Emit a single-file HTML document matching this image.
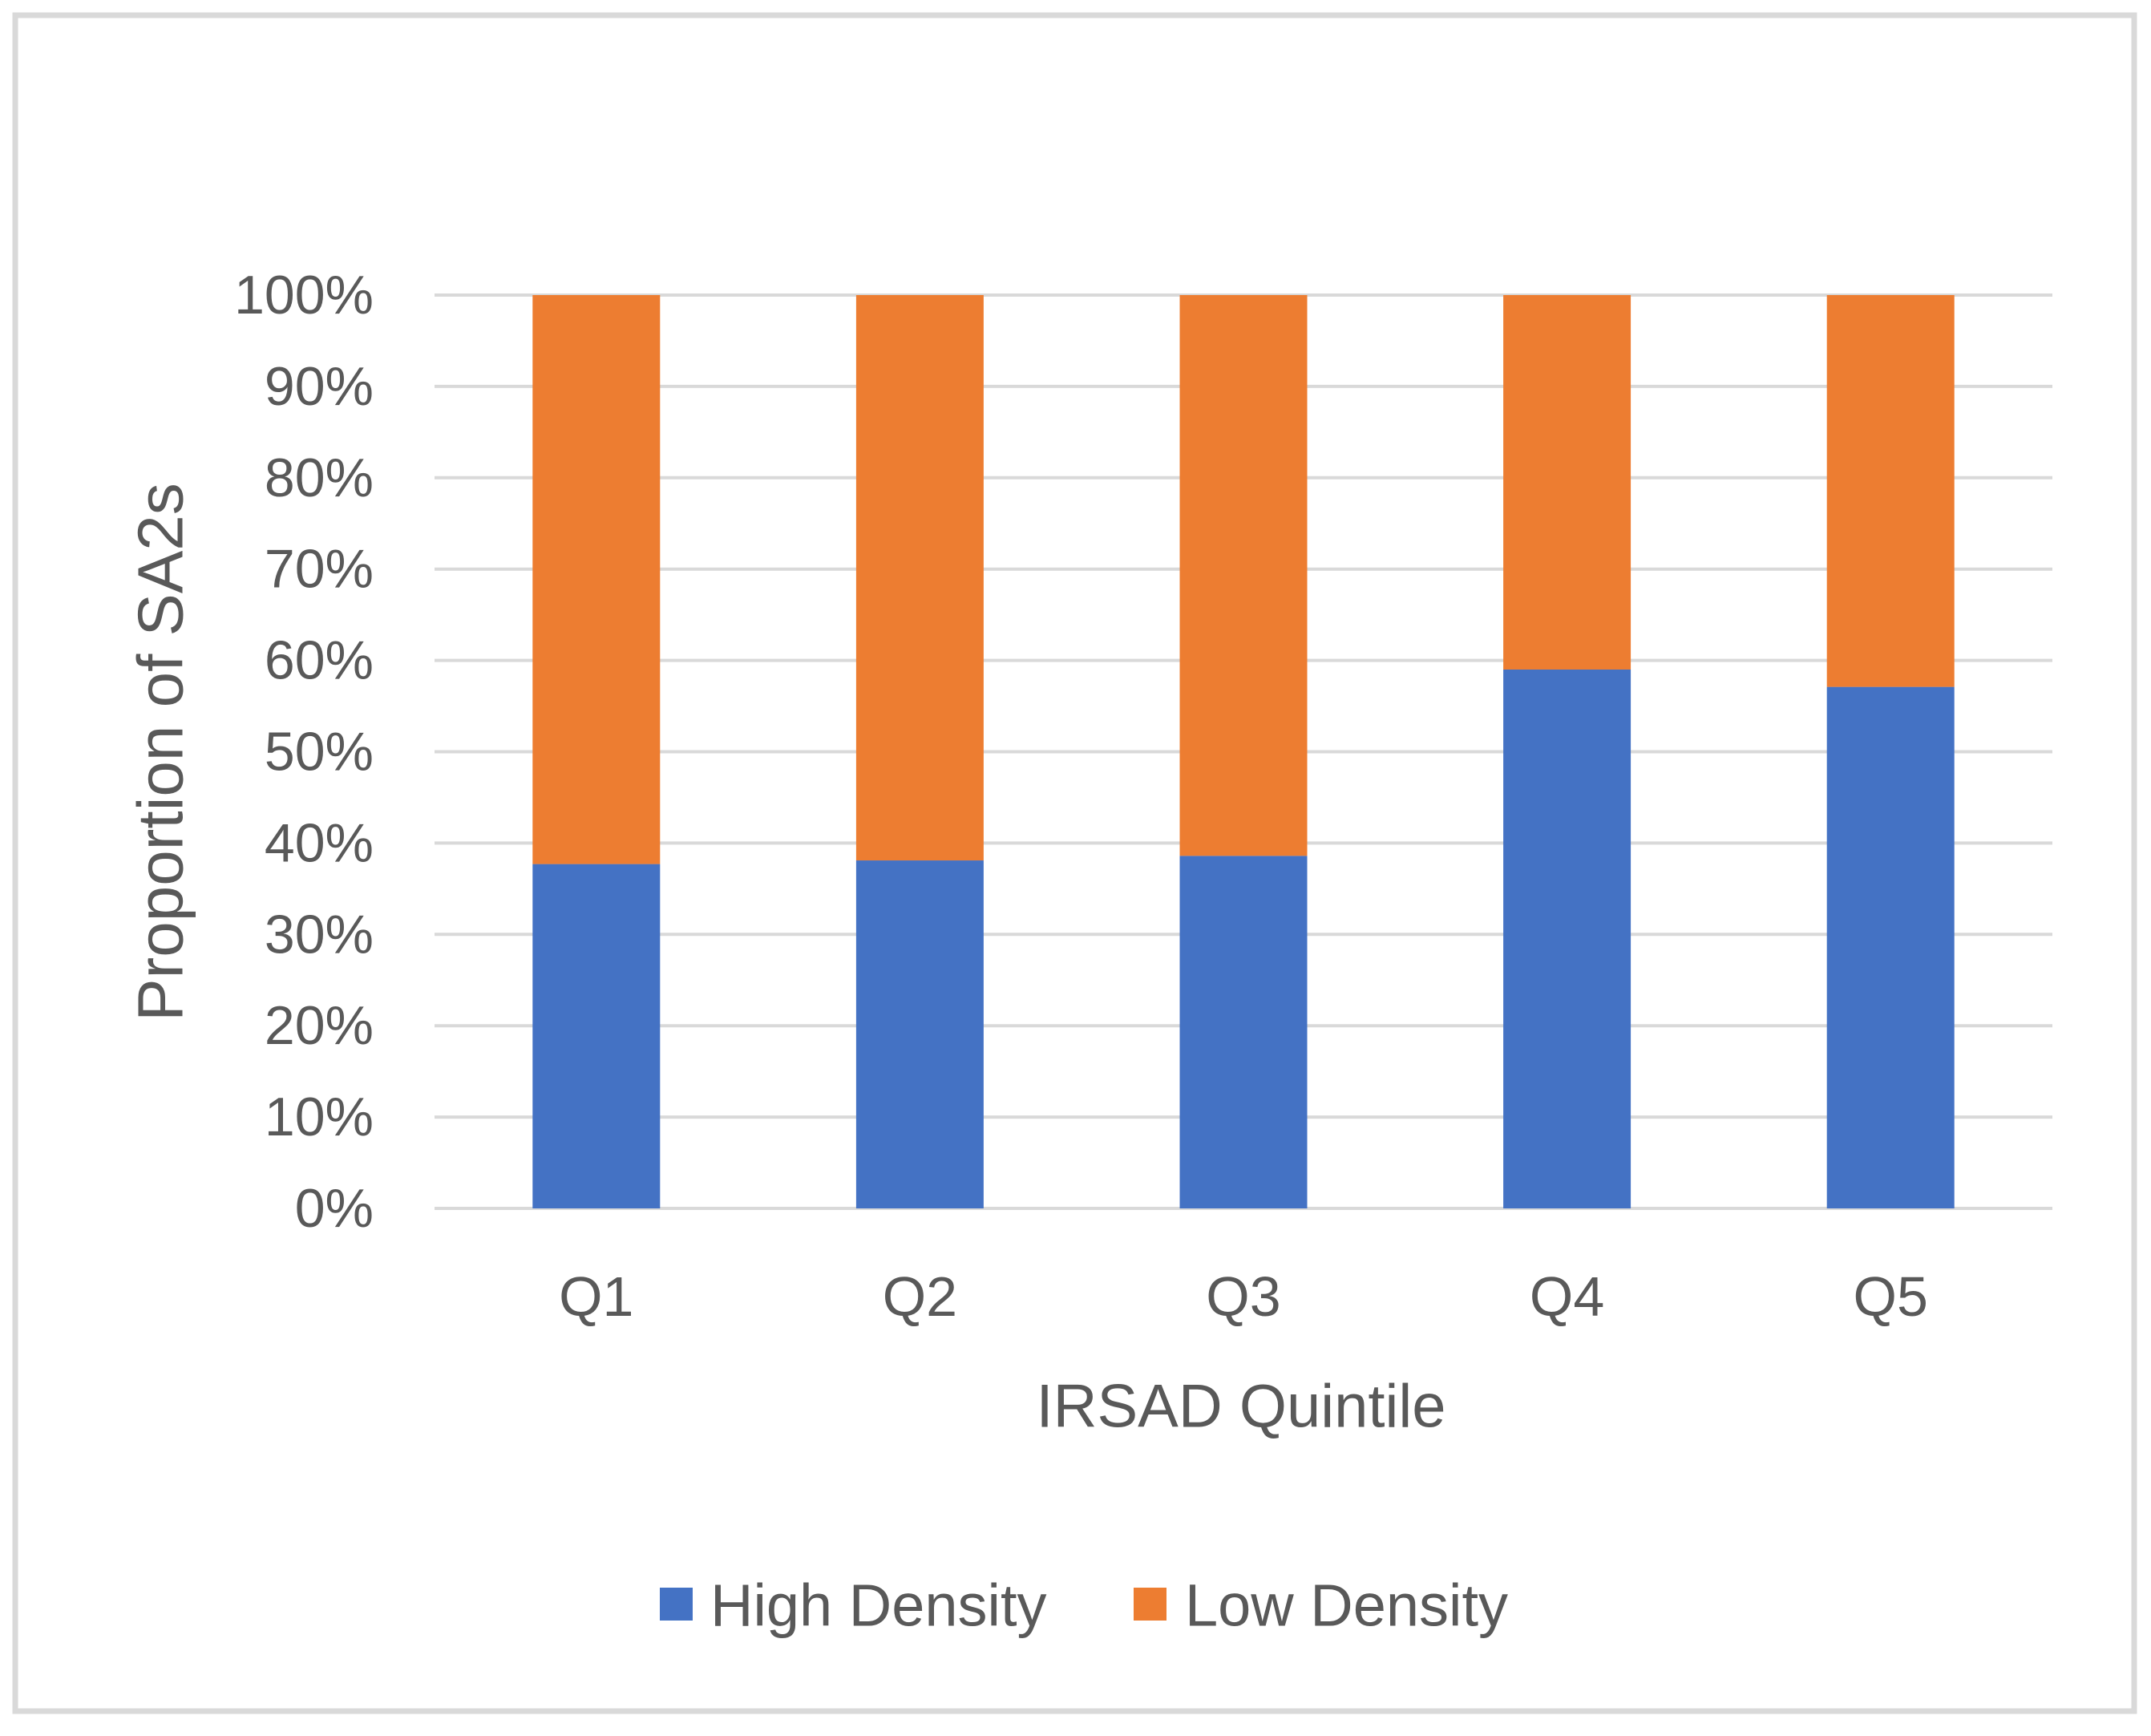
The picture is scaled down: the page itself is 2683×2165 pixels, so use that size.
<!DOCTYPE html>
<html><head><meta charset="utf-8"><style>
html,body{margin:0;padding:0;background:#fff;}
svg{display:block;font-family:"Liberation Sans",sans-serif;}
</style></head><body>
<svg id="chart" width="2683" height="2165" viewBox="0 0 2683 2165" xmlns="http://www.w3.org/2000/svg">
<rect x="19" y="19" width="2643" height="2115" fill="#fff" stroke="#d9d9d9" stroke-width="7"/>
<g id="grid"></g>
<g id="yticks"></g>
<g id="bars"></g>
<g id="xticks"></g>
<text x="200" y="938" transform="rotate(-90 200 938)" text-anchor="middle" dominant-baseline="central" font-size="80" fill="#595959">Proportion of SA2s</text>
<text x="1548" y="1754" text-anchor="middle" dominant-baseline="central" font-size="76" fill="#595959">IRSAD Quintile</text>
<g>
<g>
<rect x="823" y="1980" width="41" height="41" fill="#4472c4"/>
<text x="886" y="2002" dominant-baseline="central" font-size="74" fill="#595959">High Density</text>
</g>
<g>
<rect x="1414" y="1980" width="41" height="41" fill="#ed7d31"/>
<text x="1478" y="2002" dominant-baseline="central" font-size="74" fill="#595959">Low Density</text>
</g>
</g>
</svg>
<script>
const categories = ["Q1","Q2","Q3","Q4","Q5"];
const highDensity = [0.377, 0.381, 0.386, 0.590, 0.571];
const lowDensity = [0.623, 0.619, 0.614, 0.410, 0.429];
const yTicks = [0,0.1,0.2,0.3,0.4,0.5,0.6,0.7,0.8,0.9,1.0];
const yTickLabels = ["0%","10%","20%","30%","40%","50%","60%","70%","80%","90%","100%"];

const NS="http://www.w3.org/2000/svg";
const x0=542,x1=2560,yTop=368,yBot=1507;
const band=(x1-x0)/categories.length, barW=159;
function y(v){return yBot-(yBot-yTop)*v;}
function xc(i){return x0+band*(i+0.5);}
function mk(tag,attrs,parent){const e=document.createElementNS(NS,tag);for(const k in attrs)e.setAttribute(k,attrs[k]);parent.appendChild(e);return e;}
const grid=document.getElementById('grid'),yt=document.getElementById('yticks'),bars=document.getElementById('bars'),xt=document.getElementById('xticks');
yTicks.forEach((t,i)=>{
  const l=mk('line',{x1:x0,x2:x1,y1:y(t),y2:y(t),stroke:'#d9d9d9','stroke-width':4},grid);
  
  
  const tx=mk('text',{x:466,y:y(t),'text-anchor':'end','dominant-baseline':'central','font-size':68,fill:'#595959'},yt);
  tx.textContent=yTickLabels[i];
  
  
});
categories.forEach((c,i)=>{
  const bx=xc(i)-barW/2;
  const b1=mk('rect',{x:bx,y:y(highDensity[i]),width:barW,height:y(0)-y(highDensity[i]),fill:'#4472c4'},bars);
  
  
  const top=highDensity[i]+lowDensity[i];
  const b2=mk('rect',{x:bx,y:y(top),width:barW,height:y(highDensity[i])-y(top),fill:'#ed7d31'},bars);
  
  
  const tx=mk('text',{x:xc(i),y:1617,'text-anchor':'middle','dominant-baseline':'central','font-size':70,fill:'#595959'},xt);
  tx.textContent=c;
  
  
});
</script>
</body></html>
